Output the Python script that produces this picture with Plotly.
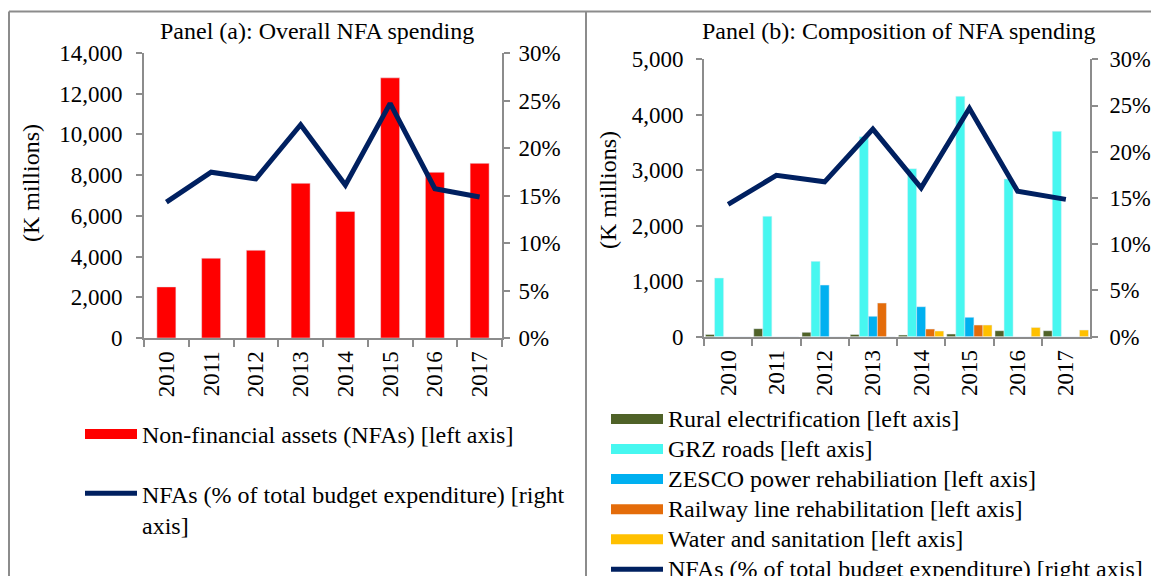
import plotly.graph_objects as go

W, H = 1151, 576

years = ["2010", "2011", "2012", "2013", "2014", "2015", "2016", "2017"]

# Panel (a)
nfa_total = [2510, 3920, 4310, 7600, 6220, 12780, 8140, 8580]
nfa_share = [0.143, 0.1745, 0.1675, 0.2245, 0.161, 0.247, 0.1572, 0.1485]

# Panel (b)
rural_elec = [40, 145, 78, 40, 30, 48, 108, 108]
grz_roads = [1058, 2170, 1358, 3606, 3029, 4333, 2843, 3702]
zesco = [0, 0, 931, 367, 541, 349, 0, 0]
railway = [0, 0, 0, 607, 138, 210, 0, 0]
water = [0, 0, 0, 0, 102, 210, 168, 120]

FONT = "Liberation Serif"
GRAY = "#8c8c8c"
NAVY = "#002060"

series_b = [
    ("Rural electrification [left axis]", rural_elec, "#4F6228"),
    ("GRZ roads [left axis]", grz_roads, "#47F7F0"),
    ("ZESCO power rehabiliation [left axis]", zesco, "#00B0F0"),
    ("Railway line rehabilitation [left axis]", railway, "#E46C0A"),
    ("Water and sanitation [left axis]", water, "#FFC000"),
]


def px_x(v):
    return v / W


def px_y(v):
    return 1 - v / H


def big(t):
    return '<span style="font-size:24px">' + t + '</span>'


fig = go.Figure()

# Panel (a) traces
fig.add_trace(go.Bar(x=years, y=nfa_total, marker_color="#FF0000", width=0.425,
                     xaxis="x", yaxis="y", showlegend=False,
                     name="Non-financial assets (NFAs) [left axis]"))
fig.add_trace(go.Scatter(x=years, y=nfa_share, mode="lines",
                         line=dict(color=NAVY, width=5), xaxis="x", yaxis="y2",
                         showlegend=False, name="NFAs share"))
# legend entries panel (a)
fig.add_trace(go.Scatter(x=[None], y=[None], mode="lines", xaxis="x", yaxis="y",
                         line=dict(color="#FF0000", width=11), legendgroup="a1",
                         name="Non-financial assets (NFAs) [left axis]", legend="legend"))
fig.add_trace(go.Scatter(x=[None], y=[None], mode="lines", xaxis="x", yaxis="y",
                         line=dict(color=NAVY, width=5), legendgroup="a2",
                         name="NFAs (% of total budget expenditure) [right<br>axis]",
                         legend="legend"))

# Panel (b) traces
for name, vals, col in series_b:
    fig.add_trace(go.Bar(x=years, y=vals, marker_color=col, xaxis="x2", yaxis="y3",
                         showlegend=False, name=name))
fig.add_trace(go.Scatter(x=years, y=nfa_share, mode="lines",
                         line=dict(color=NAVY, width=5), xaxis="x2", yaxis="y4",
                         showlegend=False, name="NFAs share (b)"))
for name, vals, col in series_b:
    fig.add_trace(go.Scatter(x=[None], y=[None], mode="lines", xaxis="x2", yaxis="y3",
                             line=dict(color=col, width=11), name=big(name),
                             legend="legend2"))
fig.add_trace(go.Scatter(x=[None], y=[None], mode="lines", xaxis="x2", yaxis="y3",
                         line=dict(color=NAVY, width=5),
                         name=big("NFAs (% of total budget expenditure) [right axis]"),
                         legend="legend2"))

axis_common = dict(showline=True, linecolor=GRAY, linewidth=2, showgrid=False,
                   zeroline=False, ticks="outside", tickcolor=GRAY, tickwidth=2,
                   ticklen=6, tickfont=dict(family=FONT, size=23, color="black"))

xcommon = dict(axis_common, type="category", tickson="boundaries", tickangle=-90,
               ticklen=7, ticklabelstandoff=2)

fig.update_layout(
    width=W, height=H,
    margin=dict(l=0, r=0, t=0, b=0, autoexpand=False),
    paper_bgcolor="white", plot_bgcolor="rgba(0,0,0,0)",
    font=dict(family=FONT, size=24, color="black"),
    barmode="group", bargap=0.0625, bargroupgap=0,
    xaxis=dict(xcommon, domain=[px_x(144), px_x(502)], anchor="y"),
    yaxis=dict(axis_common, domain=[px_y(338), px_y(53)], range=[0, 14000],
               dtick=2000, tickformat=",", anchor="x", ticklabelstandoff=9),
    yaxis2=dict(axis_common, overlaying="y", side="right", range=[0, 0.30],
                dtick=0.05, tickformat=".0%", anchor="x", ticklabelstandoff=4),
    xaxis2=dict(xcommon, domain=[px_x(704), px_x(1090)], anchor="y3"),
    yaxis3=dict(axis_common, domain=[px_y(336.7), px_y(59.3)], range=[0, 5000],
                dtick=1000, tickformat=",", anchor="x2", ticklabelstandoff=8),
    yaxis4=dict(axis_common, overlaying="y3", side="right", range=[0, 0.30],
                dtick=0.05, tickformat=".0%", anchor="x2", ticklabelstandoff=7,
                tickfont=dict(family=FONT, size=22.5, color="black")),
    legend=dict(x=px_x(80), y=px_y(412), xanchor="left", yanchor="top",
                font=dict(family=FONT, size=24), itemwidth=52, valign="top",
                tracegroupgap=25, bgcolor="rgba(0,0,0,0)"),
    legend2=dict(x=px_x(606), y=px_y(399), xanchor="left", yanchor="top",
                 font=dict(family=FONT, size=20.8), itemwidth=52, valign="middle",
                 tracegroupgap=0, bgcolor="rgba(0,0,0,0)"),
    annotations=[
        dict(text="Panel (a): Overall NFA spending", x=px_x(317), y=px_y(31),
             xanchor="center", yanchor="middle",
             xref="paper", yref="paper", showarrow=False, font=dict(size=24)),
        dict(text="Panel (b): Composition of NFA spending", x=px_x(899), y=px_y(31),
             xanchor="center", yanchor="middle",
             xref="paper", yref="paper", showarrow=False, font=dict(size=24)),
        dict(text="(K millions)", x=px_x(31), y=px_y(183), textangle=-90,
             xanchor="center", yanchor="middle",
             xref="paper", yref="paper", showarrow=False, font=dict(size=24)),
        dict(text="(K millions)", x=px_x(608), y=px_y(190), textangle=-90,
             xanchor="center", yanchor="middle",
             xref="paper", yref="paper", showarrow=False, font=dict(size=24)),
    ],
    shapes=[
        dict(type="line", xref="paper", yref="paper", x0=px_x(9), x1=1.0,
             y0=px_y(11.5), y1=px_y(11.5), line=dict(color=GRAY, width=2)),
        dict(type="line", xref="paper", yref="paper", x0=px_x(9), x1=px_x(9),
             y0=px_y(11.5), y1=0, line=dict(color=GRAY, width=2)),
        dict(type="line", xref="paper", yref="paper", x0=px_x(586), x1=px_x(586),
             y0=px_y(11.5), y1=0, line=dict(color=GRAY, width=2)),
    ],
)

fig.write_html("out.html", config={"displayModeBar": False},
               post_script="document.body.style.margin='0px';")
